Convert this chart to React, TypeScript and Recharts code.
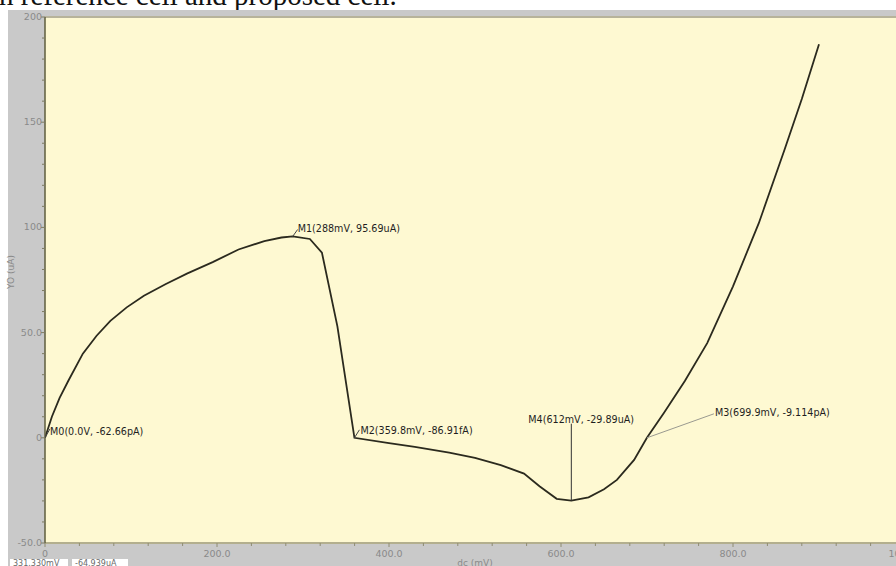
import React from "react";
import {
  LineChart,
  Line,
  XAxis,
  YAxis,
  CartesianGrid,
  ReferenceDot,
  ReferenceLine,
} from "recharts";

// dc sweep (mV) and Y0 current (uA)
const voltage = [
  0, 8, 17, 27, 44, 60, 76, 95, 115, 140, 165, 195, 225, 255, 275, 288, 308, 322, 340, 359.8,
  400, 430, 470, 500, 530, 557, 575, 595, 612, 632, 650, 665, 685, 699.9, 720, 744, 770, 800,
  830, 860, 880, 900,
];
const current = [
  0, 10, 19, 27, 40, 48.5, 55.6, 62, 67.5, 73, 78, 83.5, 89.5, 93.5, 95.2, 95.69, 94.5, 88, 53, 0,
  -2.5, -4.3, -7, -9.5, -13, -17, -23, -29, -29.89, -28.3, -24.5, -20, -10.5, 0, 12, 27, 45, 72,
  102, 137, 161, 187,
];

const markerNames = ["M0", "M1", "M2", "M4", "M3"];
const markerX = [0, 288, 359.8, 612, 699.9];
const markerY = [0, 95.69, 0, -29.89, 0];
const markerText = [
  "M0(0.0V, -62.66pA)",
  "M1(288mV, 95.69uA)",
  "M2(359.8mV, -86.91fA)",
  "M4(612mV, -29.89uA)",
  "M3(699.9mV, -9.114pA)",
];

const xTicks = [
  0, 40, 80, 120, 160, 200, 240, 280, 320, 360, 400, 440, 480, 520, 560, 600, 640, 680, 720, 760,
  800, 840, 880, 920, 960, 1000,
];
const xMajor = [0, 200, 400, 600, 800, 1000];
const xLabels = ["0", "200.0", "400.0", "600.0", "800.0", "1000.0"];

const yTicks = [
  -50, -40, -30, -20, -10, 0, 10, 20, 30, 40, 50, 60, 70, 80, 90, 100, 110, 120, 130, 140, 150,
  160, 170, 180, 190, 200,
];
const yMajor = [-50, 0, 50, 100, 150, 200];
const yLabels = ["-50.0", "0", "50.0", "100", "150", "200"];

const data = voltage.map((v, i) => ({ v, i: current[i] }));

// pixel offsets of label text / leader line end relative to each marker
const labelPos: Record<string, { dx: number; dy: number; lx: number; ly: number; lc: string }> = {
  M0: { dx: 5, dy: -3, lx: 5, ly: -9, lc: "#444" },
  M1: { dx: 5, dy: -4, lx: 5, ly: -7, lc: "#444" },
  M2: { dx: 6, dy: -4, lx: 5, ly: -8, lc: "#444" },
  M4: { dx: -43, dy: -78, lx: 0, ly: -77, lc: "#333" },
  M3: { dx: 68, dy: -22, lx: 67, ly: -24, lc: "#9a9a90" },
};

const FONT = "DejaVu Sans, Verdana, sans-serif";

const XTick = (props: any) => {
  const { x, y, payload } = props;
  const k = xMajor.indexOf(payload.value);
  return (
    <g>
      <line x1={x} x2={x} y1={y} y2={y + (k >= 0 ? 4 : 3)} stroke="#8f8c72" />
      {k >= 0 && (
        <text x={x} y={y + 14} textAnchor="middle" fontSize={9.5} fill="#8a8a8a" fontFamily={FONT}>
          {xLabels[k]}
        </text>
      )}
    </g>
  );
};

const YTick = (props: any) => {
  const { x, y, payload } = props;
  const k = yMajor.indexOf(payload.value);
  return (
    <g>
      <line x1={x - (k >= 0 ? 4 : 3)} x2={x} y1={y} y2={y} stroke="#7d7b62" />
      {k >= 0 && (
        <text x={x - 3} y={y + 3} textAnchor="end" fontSize={9.5} fill="#8a8a8a" fontFamily={FONT}>
          {yLabels[k]}
        </text>
      )}
    </g>
  );
};

const MarkerShape = (name: string, text: string) => (props: any) => {
  const { cx, cy } = props;
  const p = labelPos[name];
  return (
    <g>
      <line x1={cx} y1={cy} x2={cx + p.lx} y2={cy + p.ly} stroke={p.lc} strokeWidth={1} />
      <text x={cx + p.dx} y={cy + p.dy} fontSize={9.6} fill="#1e1e1e" fontFamily={FONT}>
        {text}
      </text>
    </g>
  );
};

export default function App() {
  return (
    <div
      style={{
        position: "fixed",
        left: 0,
        top: 0,
        width: 896,
        height: 566,
        overflow: "hidden",
        background: "#ffffff",
      }}
    >
      <svg width={896} height={12} style={{ position: "absolute", left: 0, top: 0 }}>
        <text x={-1} y={5} fontSize={29} fontFamily="Liberation Serif, Times New Roman, serif" fill="#111">
          n reference cell and proposed cell.
        </text>
      </svg>
      <div
        style={{ position: "absolute", left: 8, top: 10, width: 888, height: 556, background: "#c9c9c9" }}
      />
      <div style={{ position: "absolute", left: 0, top: 0 }}>
        <LineChart width={920} height={566} data={data} margin={{ top: 17, right: 15, bottom: 0, left: 0 }}>
          <CartesianGrid horizontal={false} vertical={false} fill="#fef9d2" stroke="none" />
          <XAxis
            dataKey="v"
            type="number"
            domain={[0, 1000]}
            ticks={xTicks}
            interval={0}
            height={23}
            tickSize={0}
            tickMargin={0}
            tickLine={false}
            tick={<XTick />}
            axisLine={{ stroke: "#b3af8e", strokeWidth: 2 }}
            allowDataOverflow
            label={{
              content: (p: any) => (
                <text
                  x={p.viewBox.x + p.viewBox.width / 2}
                  y={p.viewBox.y + 23}
                  textAnchor="middle"
                  fontSize={9}
                  fill="#8a8a8a"
                  fontFamily={FONT}
                >
                  dc (mV)
                </text>
              ),
            }}
          />
          <YAxis
            type="number"
            domain={[-50, 200]}
            ticks={yTicks}
            interval={0}
            width={45}
            tickSize={0}
            tickMargin={0}
            tickLine={false}
            tick={<YTick />}
            axisLine={{ stroke: "#5e5c3c", strokeWidth: 1.5 }}
            allowDataOverflow
            label={{
              content: (p: any) => {
                const cy = p.viewBox.y + p.viewBox.height / 2 - 8;
                return (
                  <text
                    x={14}
                    y={cy}
                    transform={`rotate(-90 14 ${cy})`}
                    textAnchor="middle"
                    fontSize={9}
                    fill="#8a8a8a"
                    fontFamily={FONT}
                  >
                    YO (uA)
                  </text>
                );
              },
            }}
          />
          <ReferenceLine y={200} stroke="#b7b39a" strokeWidth={2} />
          <Line
            dataKey="i"
            type="linear"
            stroke="#2b2a1e"
            strokeWidth={1.8}
            dot={false}
            isAnimationActive={false}
          />
          {markerNames.map((n, k) => (
            <ReferenceDot
              key={n}
              x={markerX[k]}
              y={markerY[k]}
              r={0}
              shape={MarkerShape(n, markerText[k])}
            />
          ))}
        </LineChart>
      </div>
      <div
        style={{
          position: "absolute",
          left: 10,
          top: 559,
          height: 10,
          display: "flex",
          gap: 4,
          fontSize: 8,
          lineHeight: "10px",
          fontFamily: FONT,
          color: "#6a6a6a",
        }}
      >
        <div style={{ background: "#fff", padding: "0 3px", width: 52 }}>331.330mV</div>
        <div style={{ background: "#fff", padding: "0 3px", width: 50 }}>-64.939uA</div>
      </div>
    </div>
  );
}
